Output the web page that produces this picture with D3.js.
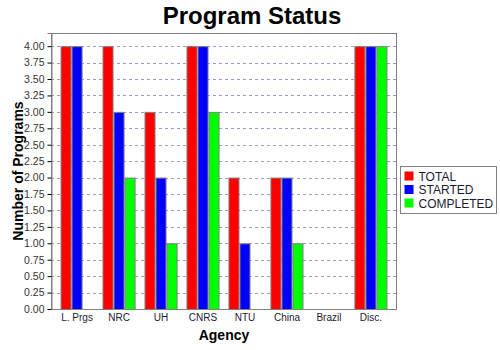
<!DOCTYPE html>
<html>
<head>
<meta charset="utf-8">
<script src="https://cdn.jsdelivr.net/npm/d3@7"></script>
<style>
  body { margin: 0; background: #fff; }
  svg { display: block; font-family: "Liberation Sans", Arial, sans-serif; }
</style>
</head>
<body>
<svg id="chart" width="500" height="350"></svg>
<script>
// Program counts per agency
const agencies  = ["L. Prgs", "NRC", "UH", "CNRS", "NTU", "China", "Brazil", "Disc."];
const total     = [4, 4, 3, 4, 2, 2, 0, 4];
const started   = [4, 3, 2, 4, 1, 2, 0, 4];
const completed = [0, 2, 1, 3, 0, 1, 0, 4];
const seriesNames  = ["TOTAL", "STARTED", "COMPLETED"];
const seriesColors = ["#ff0000", "#0000ff", "#00ff00"];
const yTicks = d3.range(0, 17).map(i => i * 0.25);

const seriesValues = [total, started, completed];
const svg = d3.select("#chart");

const plot = { left: 51, right: 397, top: 33, bottom: 309 };

const x = d3.scaleBand()
  .domain(agencies)
  .range([plot.left, plot.right])
  .paddingInner(0.212)
  .paddingOuter(0.227);

const xs = d3.scaleBand()
  .domain(seriesNames)
  .range([0, x.bandwidth()]);

const y = d3.scaleLinear()
  .domain([0, 4.2])
  .range([plot.bottom, plot.top]);

// plot background
svg.append("rect")
  .attr("x", plot.left).attr("y", plot.top)
  .attr("width", plot.right - plot.left).attr("height", plot.bottom - plot.top)
  .attr("fill", "#ffffff");

// dashed gridlines
svg.append("g")
  .selectAll("line")
  .data(yTicks.filter(d => d > 0))
  .join("line")
  .attr("x1", plot.left).attr("x2", plot.right)
  .attr("y1", d => Math.round(y(d)) + 0.5).attr("y2", d => Math.round(y(d)) + 0.5)
  .attr("stroke", "#9a9acb")
  .attr("stroke-width", 1)
  .attr("stroke-dasharray", "3,3");

// bars
const groups = svg.append("g")
  .selectAll("g")
  .data(agencies)
  .join("g")
  .attr("transform", d => `translate(${x(d)},0)`);

groups.selectAll("rect")
  .data((d, i) => seriesNames.map((s, j) => ({ s, v: seriesValues[j][i], c: seriesColors[j] })))
  .join("rect")
  .filter(d => d.v > 0)
  .attr("x", d => xs(d.s) + 0.5)
  .attr("y", d => y(d.v) + 0.5)
  .attr("width", xs.bandwidth() - 1)
  .attr("height", d => y(0) - y(d.v))
  .attr("fill", d => d.c)
  .attr("stroke", "#808080")
  .attr("stroke-width", 1);

// plot outline
svg.append("rect")
  .attr("x", plot.left + 0.5).attr("y", plot.top + 0.5)
  .attr("width", plot.right - plot.left - 1).attr("height", plot.bottom - plot.top)
  .attr("fill", "none")
  .attr("stroke", "#808080")
  .attr("stroke-width", 1);

// y axis
const yAxis = svg.append("g")
  .attr("transform", `translate(${plot.left + 0.5},0)`)
  .call(d3.axisLeft(y).tickValues(yTicks).tickFormat(d3.format(".2f")).tickSize(4).tickPadding(3));
yAxis.select(".domain").attr("stroke", "#808080");
yAxis.selectAll(".tick line").attr("stroke", "#000");
yAxis.selectAll(".tick text")
  .attr("font-size", 10.5)
  .attr("font-family", "Liberation Sans, Arial, sans-serif")
  .attr("fill", "#333");

// x axis
const xAxis = svg.append("g")
  .attr("transform", `translate(0,${plot.bottom + 0.5})`)
  .call(d3.axisBottom(x).tickSize(0).tickPadding(4));
xAxis.select(".domain").remove();
xAxis.selectAll(".tick text")
  .attr("font-size", 10)
  .attr("font-family", "Liberation Sans, Arial, sans-serif")
  .attr("fill", "#1a1a33");

// titles
svg.append("text")
  .attr("x", 252).attr("y", 24)
  .attr("text-anchor", "middle")
  .attr("font-size", 24).attr("font-weight", "bold")
  .text("Program Status");

svg.append("text")
  .attr("x", 224).attr("y", 340)
  .attr("text-anchor", "middle")
  .attr("font-size", 14).attr("font-weight", "bold")
  .text("Agency");

svg.append("text")
  .attr("transform", `translate(23,${(plot.top + plot.bottom) / 2}) rotate(-90)`)
  .attr("text-anchor", "middle")
  .attr("font-size", 14).attr("font-weight", "bold")
  .text("Number of Programs");

// legend
const legend = svg.append("g").attr("transform", "translate(400.5,166.5)");
legend.append("rect")
  .attr("width", 96).attr("height", 47)
  .attr("fill", "#fff").attr("stroke", "#808080");
const items = legend.selectAll("g.item")
  .data(seriesNames)
  .join("g")
  .attr("class", "item")
  .attr("transform", (d, i) => `translate(4,${5 + i * 13.5})`);
items.append("rect")
  .attr("width", 9).attr("height", 9)
  .attr("fill", (d, i) => seriesColors[i]);
items.append("text")
  .attr("x", 14).attr("y", 9)
  .attr("font-size", 12)
  .attr("fill", "#1a1a33")
  .text(d => d);
</script>
</body>
</html>
